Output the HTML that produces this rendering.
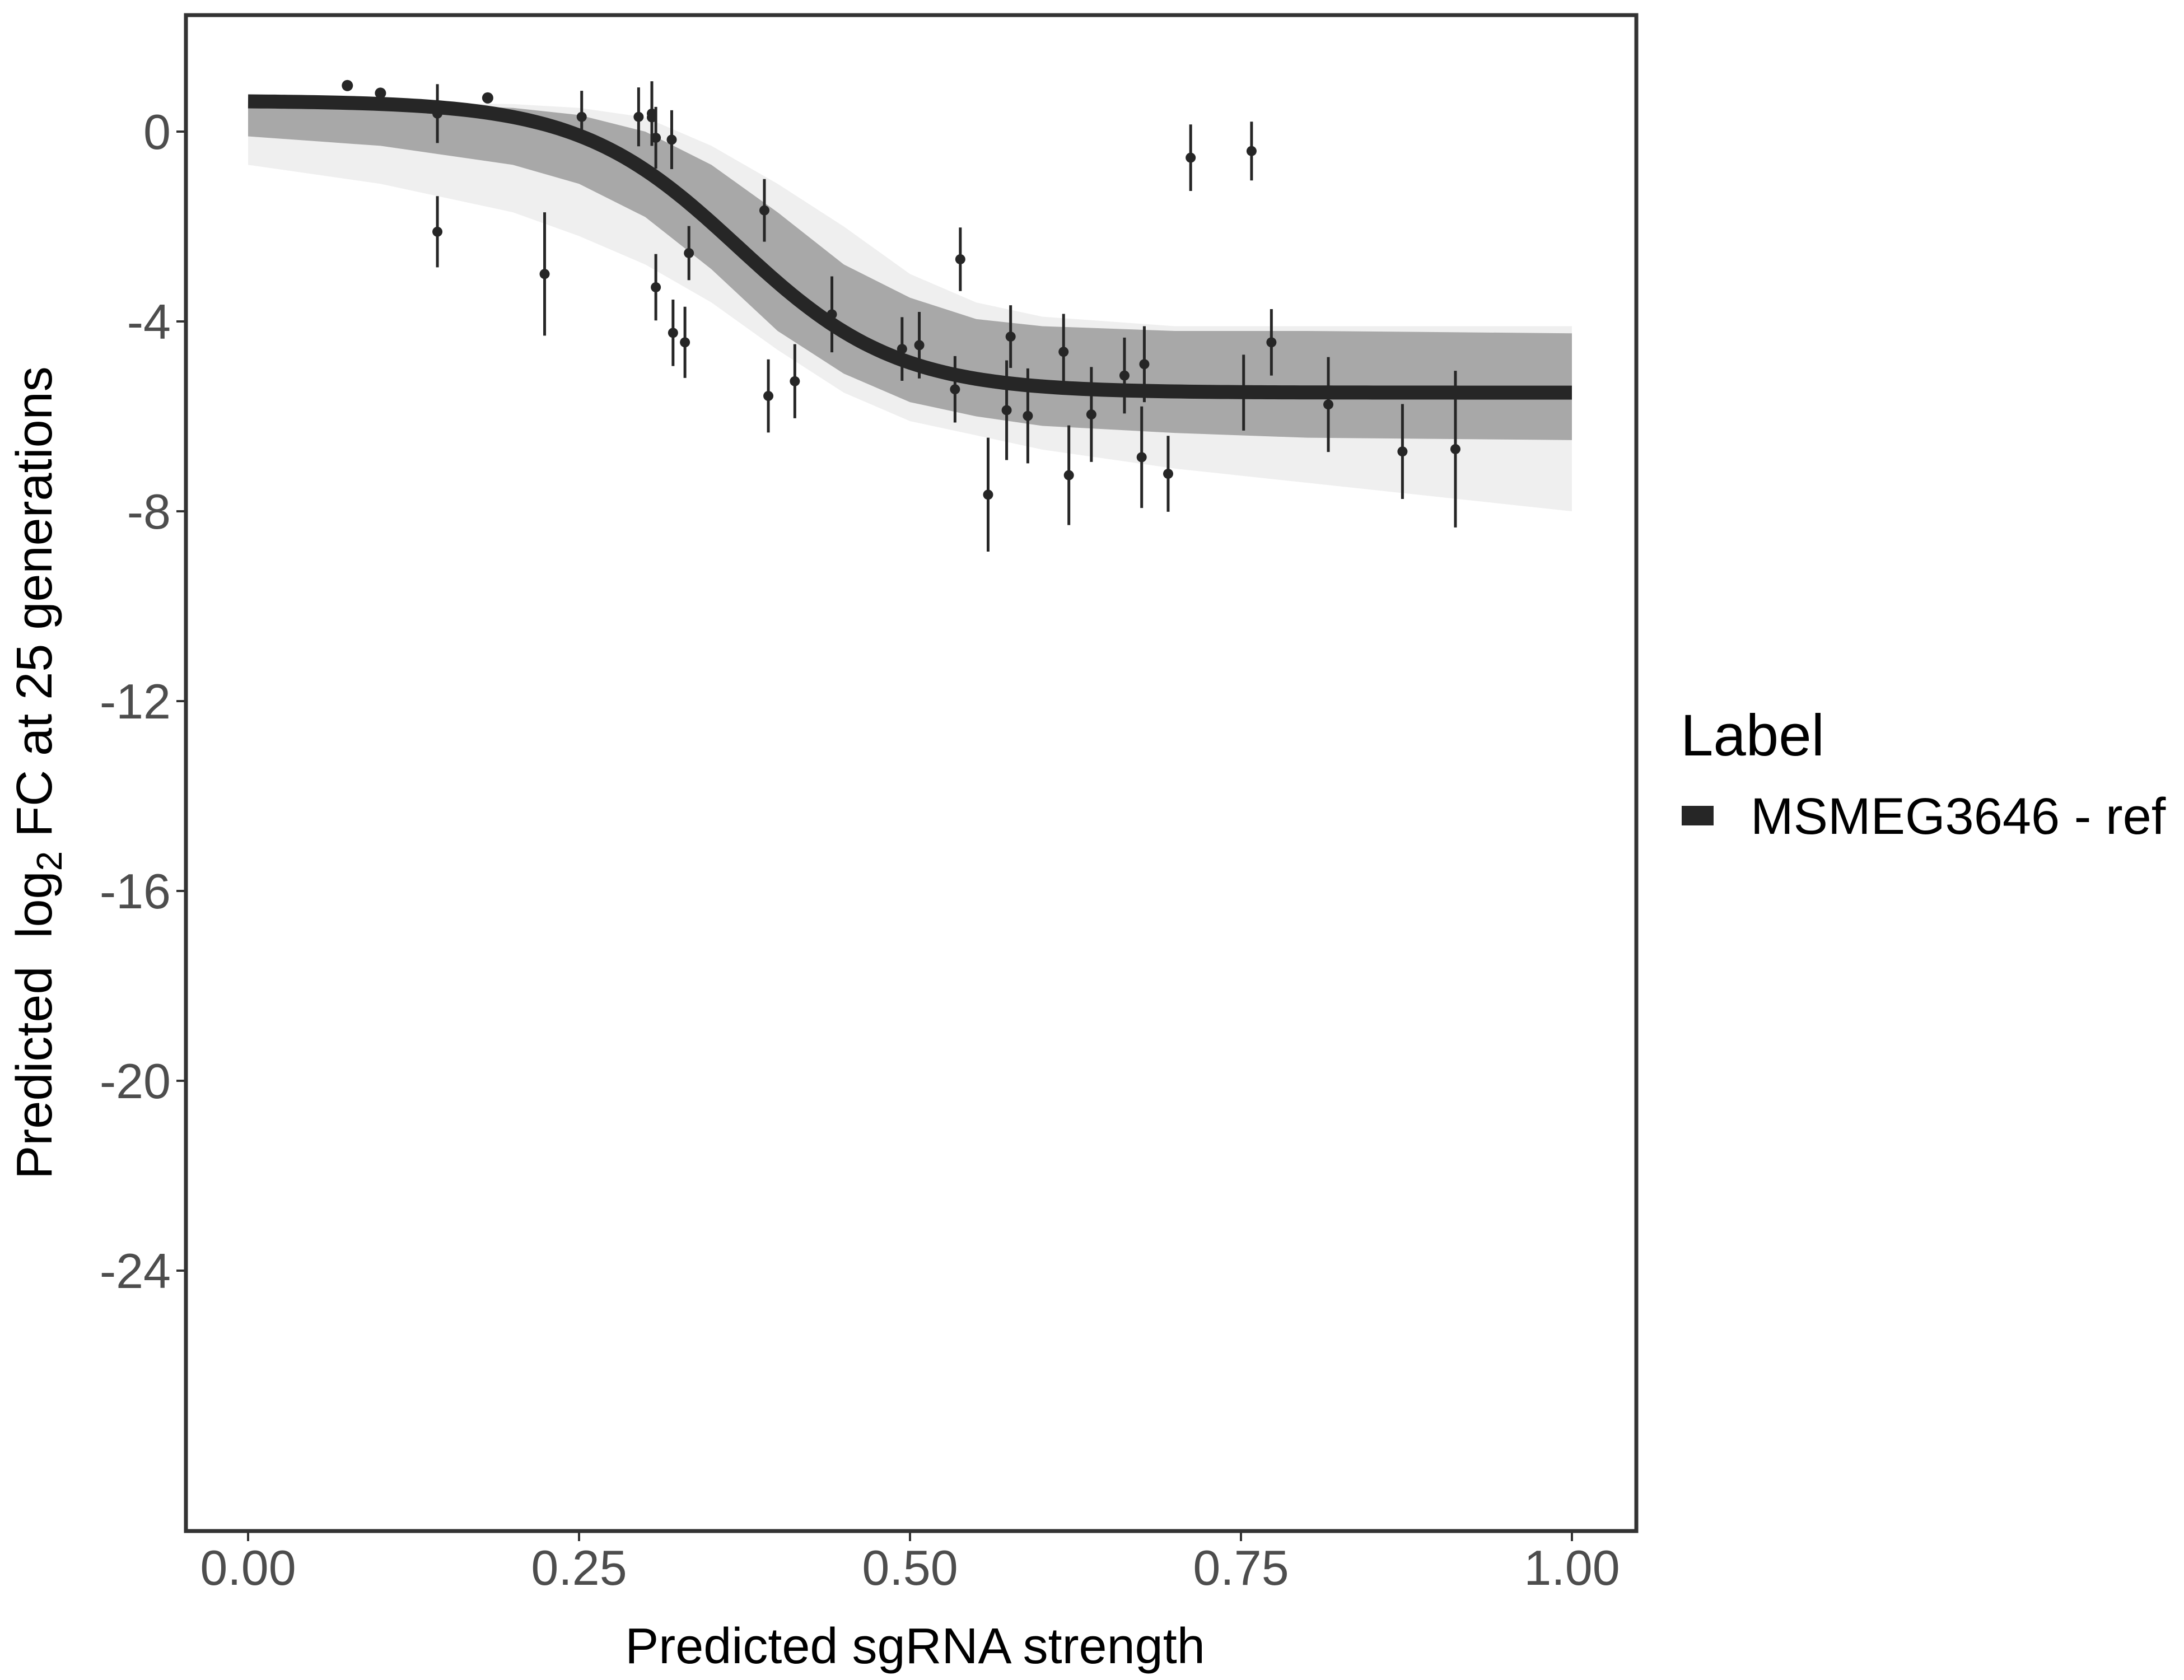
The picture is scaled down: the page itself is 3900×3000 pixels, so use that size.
<!DOCTYPE html>
<html><head><meta charset="utf-8"><style>
html,body{margin:0;padding:0;background:#fff}
svg{display:block;font-family:"Liberation Sans",sans-serif}
</style></head><body>
<svg id="chart" width="3900" height="3000" viewBox="0 0 3900 3000" xmlns="http://www.w3.org/2000/svg">
<rect x="0" y="0" width="3900" height="3000" fill="#fff"/>
<g id="plot"></g>
<rect x="332" y="27" width="2590" height="2707" fill="none" stroke="#333" stroke-width="7"/>
<g id="axes"></g>
<text x="1634" y="2970" font-size="90" text-anchor="middle" fill="#000">Predicted sgRNA strength</text>
<text transform="translate(92,1380) rotate(-90)" font-size="90" text-anchor="middle" fill="#000" xml:space="preserve">Predicted  log<tspan font-size="64" dy="18">2</tspan><tspan dy="-18"> FC at 25 generations</tspan></text>
<text x="3001" y="1349" font-size="105" fill="#000">Label</text>
<rect x="3003" y="1439" width="57" height="35" fill="#262626"/>
<text x="3126" y="1489" font-size="92" fill="#000">MSMEG3646 - ref</text>
</svg>
<script>
const xTicks=[0,0.25,0.5,0.75,1];
const xTickLabels=["0.00","0.25","0.50","0.75","1.00"];
const yTicks=[0,-4,-8,-12,-16,-20,-24];
const yTickLabels=["0","-4","-8","-12","-16","-20","-24"];
const ptX=[0.075,0.1,0.143,0.143,0.181,0.224,0.252,0.295,0.305,0.305,0.308,0.32,0.308,0.321,0.33,0.333,0.39,0.393,0.413,0.441,0.494,0.507,0.534,0.538,0.559,0.573,0.576,0.589,0.616,0.62,0.637,0.662,0.675,0.677,0.695,0.712,0.752,0.758,0.773,0.816,0.872,0.912];
const ptY=[0.97,0.81,0.38,-2.11,0.71,-3.0,0.31,0.31,0.38,0.3,-0.13,-0.17,-3.28,-4.24,-4.44,-2.56,-1.66,-5.57,-5.26,-3.85,-4.58,-4.5,-5.43,-2.69,-7.65,-5.87,-4.32,-5.99,-4.64,-7.24,-5.96,-5.14,-6.86,-4.9,-7.21,-0.55,-5.5,-0.41,-4.44,-5.75,-6.74,-6.69];
const ptErr=[0,0,0.62,0.75,0,1.3,0.55,0.62,0.68,0.6,0.65,0.62,0.7,0.7,0.75,0.57,0.66,0.77,0.78,0.8,0.67,0.7,0.7,0.67,1.2,1.05,0.66,1.0,0.8,1.05,1.0,0.8,1.07,0.8,0.8,0.7,0.8,0.62,0.7,1.0,1.0,1.65];
const bandX=[0,0.1,0.2,0.25,0.3,0.35,0.4,0.45,0.5,0.55,0.6,0.7,0.8,1];
const coreUpper=[0.6,0.58,0.5,0.35,0.0,-0.7,-1.7,-2.8,-3.5,-3.95,-4.1,-4.2,-4.2,-4.25];
const coreLower=[-0.1,-0.3,-0.7,-1.1,-1.8,-2.9,-4.2,-5.1,-5.7,-6.0,-6.2,-6.35,-6.45,-6.5];
const outerUpper=[0.65,0.62,0.58,0.5,0.3,-0.3,-1.1,-2.0,-3.0,-3.6,-3.9,-4.1,-4.1,-4.1];
const outerLower=[-0.7,-1.1,-1.7,-2.2,-2.8,-3.6,-4.6,-5.5,-6.1,-6.4,-6.7,-7.1,-7.4,-8.0];
const fitTop=[0.65], fitBottom=[-5.5], fitMid=[0.37], fitScale=[0.06];

const NS="http://www.w3.org/2000/svg";
const sx=v=>443+v*2364;
const sy=v=>235-v*84.75;
function mk(tag,attrs,parent){const e=document.createElementNS(NS,tag);for(const k in attrs)e.setAttribute(k,attrs[k]);parent.appendChild(e);return e;}
const plot=document.getElementById('plot'), axes=document.getElementById('axes');

function bandPath(up,lo){let d='';bandX.forEach((x,i)=>{d+=(i?'L':'M')+sx(x)+','+sy(up[i]);});for(let i=bandX.length-1;i>=0;i--)d+='L'+sx(bandX[i])+','+sy(lo[i]);return d+'Z';}
let outer=mk('path',{d:bandPath(outerUpper,outerLower),fill:'#efefef'},plot);


let core=mk('path',{d:bandPath(coreUpper,coreLower),fill:'#a8a8a8'},plot);



ptX.forEach((x,i)=>{
  if(ptErr[i]>0){
    let l=mk('line',{x1:sx(x),x2:sx(x),y1:sy(ptY[i]+ptErr[i]),y2:sy(ptY[i]-ptErr[i]),stroke:'#262626','stroke-width':5},plot);
    
    
  }
});

let d='';
for(let k=0;k<=200;k++){const x=k/200;const y=fitBottom[0]+(fitTop[0]-fitBottom[0])/(1+Math.exp((x-fitMid[0])/fitScale[0]));d+=(k?'L':'M')+sx(x)+','+sy(y);}
let fit=mk('path',{d:d,fill:'none',stroke:'#262626','stroke-width':25},plot);



ptX.forEach((x,i)=>{
  let c=mk('circle',{cx:sx(x),cy:sy(ptY[i]),r:ptErr[i]>0?9:10,fill:'#262626'},plot);
  
  
});

xTicks.forEach((v,i)=>{
  let t=mk('line',{x1:sx(v),x2:sx(v),y1:2737,y2:2752,stroke:'#333','stroke-width':4},axes);
  
  
  let l=mk('text',{x:sx(v),y:2830,'font-size':88,'text-anchor':'middle',fill:'#4d4d4d'},axes);
  l.textContent=xTickLabels[i];
  
  
});
yTicks.forEach((v,i)=>{
  let t=mk('line',{x1:315,x2:329,y1:sy(v),y2:sy(v),stroke:'#333','stroke-width':4},axes);
  
  
  let l=mk('text',{x:305,y:sy(v)+31,'font-size':88,'text-anchor':'end',fill:'#4d4d4d'},axes);
  l.textContent=yTickLabels[i];
  
  
});
</script>
</body></html>
